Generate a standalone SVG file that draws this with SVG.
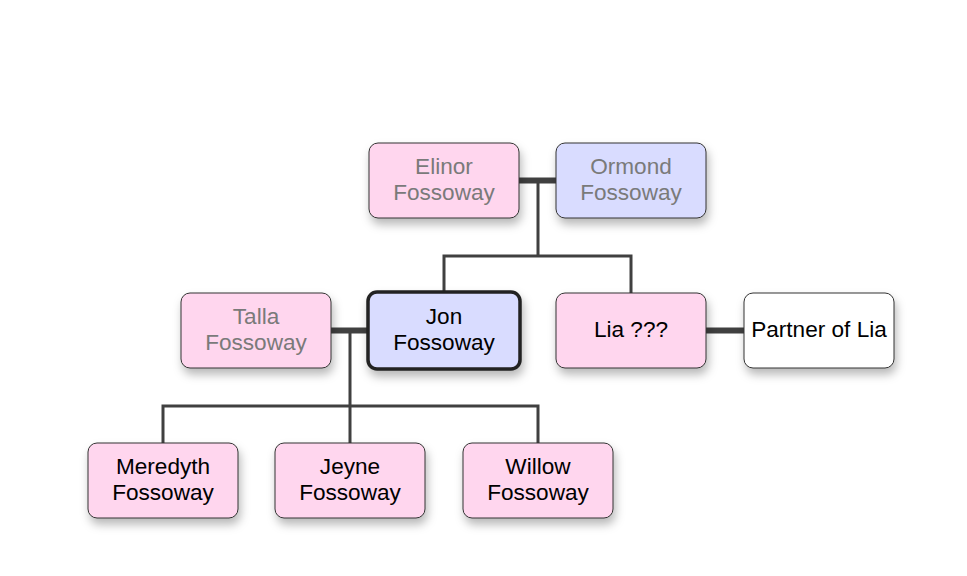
<svg xmlns="http://www.w3.org/2000/svg" width="967" height="576" viewBox="0 0 967 576">
<defs>
<filter id="sh" x="-20%" y="-20%" width="150%" height="170%">
<feDropShadow dx="2" dy="6" stdDeviation="5" flood-color="#000" flood-opacity="0.28"/>
</filter>
<style>
.box{stroke:#333;stroke-width:1;filter:url(#sh)}
.f{fill:#ffd6ee}
.m{fill:#d9dcff}
.w{fill:#fff}
.sel{stroke:#222;stroke-width:3.5}
text{font-family:"Liberation Sans",Arial,sans-serif;font-size:22.6px;text-anchor:middle;fill:#000}
.dead{fill:#7a7a7a}
.ln{stroke:#404040;stroke-width:3;fill:none}
.cp{stroke:#404040;stroke-width:6;fill:none}
</style>
</defs>
<rect width="967" height="576" fill="#fff"/>
<g id="connectors">
<line class="cp" x1="519" y1="180.5" x2="556" y2="180.5"/>
<path class="ln" d="M538 180 V256 M444 293 V256 H631 V293"/>
<line class="cp" x1="331" y1="330.5" x2="368" y2="330.5"/>
<path class="ln" d="M350 330 V443 M163 443 V406 H538 V443"/>
<line class="cp" x1="706" y1="330.5" x2="744" y2="330.5"/>
</g>
<g id="elinor"><rect class="box f" x="369" y="143" width="150" height="75" rx="9"/><text class="dead" x="444" y="174">Elinor</text><text class="dead" x="444" y="200">Fossoway</text></g>
<g id="ormond"><rect class="box m" x="556" y="143" width="150" height="75" rx="9"/><text class="dead" x="631" y="174">Ormond</text><text class="dead" x="631" y="200">Fossoway</text></g>
<g id="talla"><rect class="box f" x="181" y="293" width="150" height="75" rx="9"/><text class="dead" x="256" y="324">Talla</text><text class="dead" x="256" y="350">Fossoway</text></g>
<g id="jon"><rect class="box m sel" x="368" y="292" width="152" height="77" rx="9"/><text x="444" y="324">Jon</text><text x="444" y="350">Fossoway</text></g>
<g id="lia"><rect class="box f" x="556" y="293" width="150" height="75" rx="9"/><text x="631" y="337">Lia ???</text></g>
<g id="partner"><rect class="box w" x="744" y="293" width="150" height="75" rx="9"/><text x="819" y="337">Partner of Lia</text></g>
<g id="meredyth"><rect class="box f" x="88" y="443" width="150" height="75" rx="9"/><text x="163" y="474">Meredyth</text><text x="163" y="500">Fossoway</text></g>
<g id="jeyne"><rect class="box f" x="275" y="443" width="150" height="75" rx="9"/><text x="350" y="474">Jeyne</text><text x="350" y="500">Fossoway</text></g>
<g id="willow"><rect class="box f" x="463" y="443" width="150" height="75" rx="9"/><text x="538" y="474">Willow</text><text x="538" y="500">Fossoway</text></g>
</svg>
